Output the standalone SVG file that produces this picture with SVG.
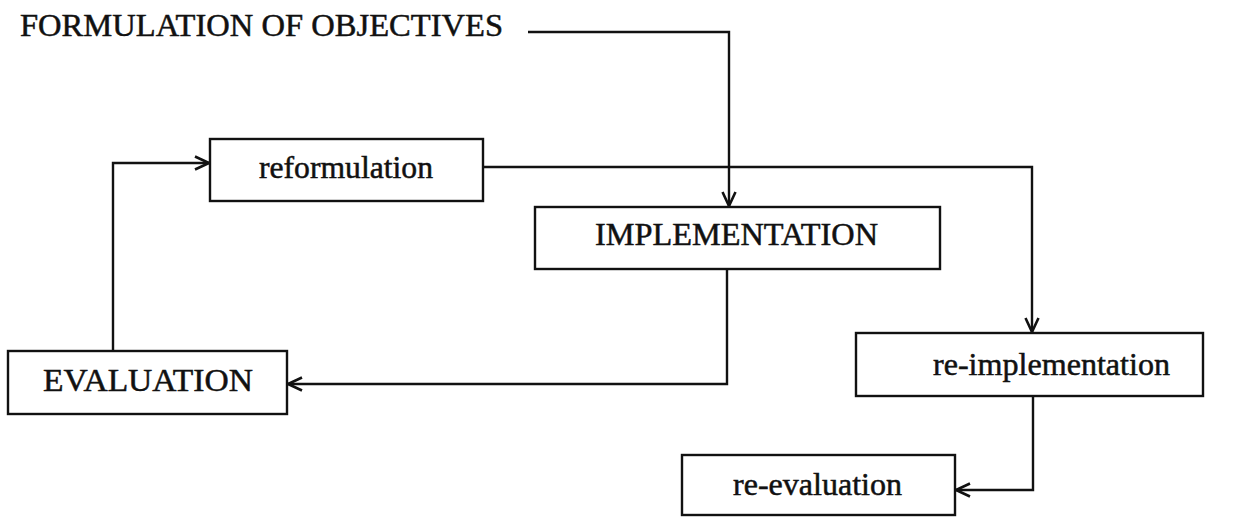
<svg xmlns="http://www.w3.org/2000/svg" width="1250" height="517" viewBox="0 0 1250 517">
  <style>
    .box { fill: #ffffff; stroke: #111111; stroke-width: 2.4; }
    .lbl { font-family: "Liberation Serif", "Times New Roman", serif; font-size: 31px; fill: #111111; stroke: #111111; stroke-width: 0.5; }
    .wire { fill: none; stroke: #111111; stroke-width: 2.4; }
  </style>
  <defs>
    <marker id="arrow" viewBox="0 0 16 16" refX="15" refY="8" markerWidth="16" markerHeight="16" markerUnits="userSpaceOnUse" orient="auto">
      <path d="M1,1.5 L15,8 L1,14.5" fill="none" stroke="#111111" stroke-width="2.6"/>
    </marker>
  </defs>
  <rect width="1250" height="517" fill="#ffffff"/>

  <!-- heading -->
  <g id="objectives">
    <text class="lbl" x="20" y="36" font-size="29" textLength="483" lengthAdjust="spacingAndGlyphs">FORMULATION OF OBJECTIVES</text>
  </g>

  <!-- process boxes -->
  <g id="reformulation">
    <rect class="box" x="210" y="139" width="273" height="62"/>
    <text class="lbl" x="259" y="178" textLength="174" lengthAdjust="spacingAndGlyphs">reformulation</text>
  </g>
  <g id="implementation">
    <rect class="box" x="535" y="207" width="405" height="62"/>
    <text class="lbl" x="595" y="245" textLength="283" lengthAdjust="spacingAndGlyphs">IMPLEMENTATION</text>
  </g>
  <g id="evaluation">
    <rect class="box" x="8" y="351" width="279" height="63"/>
    <text class="lbl" x="43" y="391" textLength="210" lengthAdjust="spacingAndGlyphs">EVALUATION</text>
  </g>
  <g id="re-implementation">
    <rect class="box" x="856" y="333" width="347" height="63"/>
    <text class="lbl" x="933" y="375" textLength="237" lengthAdjust="spacingAndGlyphs">re-implementation</text>
  </g>
  <g id="re-evaluation">
    <rect class="box" x="682" y="455" width="273" height="60"/>
    <text class="lbl" x="733" y="495" textLength="169" lengthAdjust="spacingAndGlyphs">re-evaluation</text>
  </g>

  <!-- connectors -->
  <g id="connectors">
    <polyline class="wire" points="528,32 729,32 729,206" marker-end="url(#arrow)"/>
    <polyline class="wire" points="483,167 1032,167 1032,332" marker-end="url(#arrow)"/>
    <polyline class="wire" points="727,269 727,384 288,384" marker-end="url(#arrow)"/>
    <polyline class="wire" points="113,351 113,163 209,163" marker-end="url(#arrow)"/>
    <polyline class="wire" points="1033,396 1033,490 956,490" marker-end="url(#arrow)"/>
  </g>
</svg>
